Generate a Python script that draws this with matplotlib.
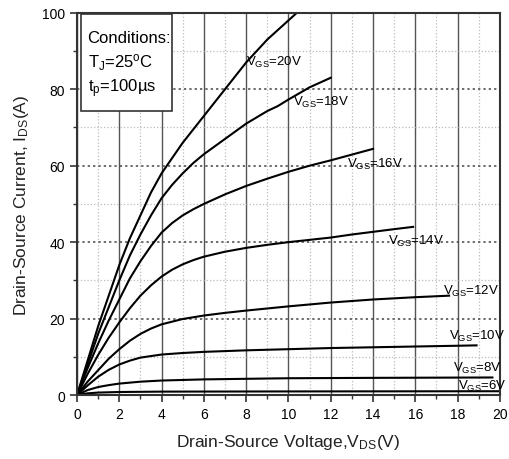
import matplotlib
matplotlib.use('Agg')
import matplotlib.pyplot as plt
from matplotlib.patches import Rectangle
from matplotlib.ticker import MultipleLocator

plt.rcParams['font.family'] = ['Liberation Sans', 'DejaVu Sans']
plt.rcParams['mathtext.fontset'] = 'custom'
plt.rcParams['mathtext.rm'] = 'Liberation Sans'
plt.rcParams['mathtext.it'] = 'Liberation Sans'

# output curves, one per gate voltage: (V_DS in V, I_DS in A)
vds_20 = [0, 0.25, 0.5, 1, 1.5, 2, 2.5, 3, 3.5, 4, 4.5, 5, 5.5, 6, 7, 8, 9, 10, 10.4]
ids_20 = [0, 4.5, 9, 18, 26, 34, 41, 47, 53, 58, 62, 66, 69.5, 73, 80, 87, 93, 98, 100]
vds_18 = [0, 0.5, 1, 1.5, 2, 2.5, 3, 3.5, 4, 4.5, 5, 5.5, 6, 7, 8, 9, 9.5, 10, 11, 12]
ids_18 = [0, 8, 16, 23, 30, 36.5, 42, 47, 51.5, 55, 58, 60.7, 63, 67, 71, 74.3, 75.6, 77.3, 80.5, 83]
vds_16 = [0, 0.5, 1, 1.5, 2, 2.5, 3, 3.5, 4, 4.5, 5, 5.5, 6, 7, 8, 9, 10, 11, 12, 13, 14]
ids_16 = [0, 7, 13.5, 19.5, 25, 30.5, 35, 39, 42.5, 45, 47, 48.6, 50, 52.5, 54.7, 56.6, 58.4,
          60, 61.4, 62.9, 64.4]
vds_14 = [0, 0.5, 1, 1.5, 2, 2.5, 3, 3.5, 4, 4.5, 5, 5.5, 6, 7, 8, 9, 10, 11, 12, 13, 14, 15, 15.9]
ids_14 = [0, 5.5, 10.5, 15, 19, 22.7, 26, 28.7, 31, 32.8, 34.2, 35.3, 36.2, 37.5, 38.5, 39.3,
          40, 40.6, 41.2, 42, 42.7, 43.4, 44]
vds_12 = [0, 0.5, 1, 1.5, 2, 2.5, 3, 3.5, 4, 5, 6, 7, 8, 10, 12, 14, 16, 17.6]
ids_12 = [0, 3.5, 6.5, 9.5, 12, 14.2, 16, 17.4, 18.5, 19.9, 20.8, 21.5, 22.1, 23.2, 24.2, 25, 25.6, 26]
vds_10 = [0, 0.5, 1, 1.5, 2, 2.5, 3, 4, 5, 6, 8, 10, 12, 14, 16, 18, 18.9]
ids_10 = [0, 2.5, 4.8, 6.6, 8, 9, 9.8, 10.6, 11, 11.3, 11.7, 12, 12.3, 12.5, 12.7, 12.9, 13]
vds_8 = [0, 0.5, 1, 1.5, 2, 3, 4, 6, 10, 14, 19.65]
ids_8 = [0, 1.3, 2.1, 2.6, 3.0, 3.5, 3.8, 4.1, 4.4, 4.5, 4.6]
vds_6 = [0, 0.5, 1, 2, 4, 10, 20]
ids_6 = [0, 0.45, 0.65, 0.8, 0.9, 0.95, 1.0]

curves = [(20, vds_20, ids_20), (18, vds_18, ids_18), (16, vds_16, ids_16),
          (14, vds_14, ids_14), (12, vds_12, ids_12), (10, vds_10, ids_10),
          (8, vds_8, ids_8), (6, vds_6, ids_6)]

# where each V_GS label sits (V, A)
label_pos = {20: (8.0, 87.2), 18: (10.2, 76.7), 16: (12.75, 60.5), 14: (14.7, 40.4),
             12: (17.3, 27.3), 10: (17.6, 15.7), 8: (17.8, 7.2), 6: (18.0, 2.4)}

fig = plt.figure(figsize=(5.1, 4.6), dpi=100)
ax = fig.add_axes([0.151, 0.139, 0.829, 0.831])

ax.set_xlim(0, 20)
ax.set_ylim(0, 100)
ax.xaxis.set_major_locator(MultipleLocator(2))
ax.xaxis.set_minor_locator(MultipleLocator(1))
ax.yaxis.set_major_locator(MultipleLocator(20))
ax.yaxis.set_minor_locator(MultipleLocator(10))

# grid: solid verticals, dotted horizontals
ax.grid(True, axis='x', which='major', color='#555555', linewidth=1.0, linestyle='-')
ax.grid(True, axis='x', which='minor', color='#bbbbbb', linewidth=0.9, linestyle=':')
ax.grid(True, axis='y', which='major', color='#444444', linewidth=1.1, linestyle=(0, (1.5, 2)))
ax.grid(True, axis='y', which='minor', color='#bbbbbb', linewidth=0.9, linestyle=':')
ax.set_axisbelow(True)

for vgs, v, i in curves:
    ax.plot(v, i, color='black', linewidth=1.5, solid_joinstyle='round')
    lx, ly = label_pos[vgs]
    ax.text(lx, ly, r'V$_{\mathrm{GS}}$=%dV' % vgs, fontsize=9.5, va='center', ha='left')

for s in ax.spines.values():
    s.set_color('#333333')
    s.set_linewidth(1.5)
ax.tick_params(which='both', direction='out', color='#333333', labelsize=10)
ax.tick_params(which='major', length=5, width=1.2)
ax.tick_params(which='minor', length=3, width=1.0)

ax.set_xlabel(r'Drain-Source Voltage,V$_{\mathrm{DS}}$(V)', fontsize=12.5, color='#222222', labelpad=8)
ax.set_ylabel(r'Drain-Source Current, I$_{\mathrm{DS}}$(A)', fontsize=12.5, color='#222222', labelpad=8)

# test conditions box
ax.add_patch(Rectangle((0.2, 74.3), 4.3, 25.4, facecolor='white', edgecolor='#333333',
                       linewidth=1.2, zorder=5))
ax.text(0.5, 93.5, 'Conditions:', fontsize=12, zorder=6, va='center')
ax.text(0.5, 87.3, r'T$_{\mathrm{J}}$=25$^{\mathrm{o}}$C', fontsize=12, zorder=6, va='center')
ax.text(0.5, 80.5, r't$_{\mathrm{p}}$=100µs', fontsize=12, zorder=6, va='center')

fig.savefig('out.png', dpi=100)
